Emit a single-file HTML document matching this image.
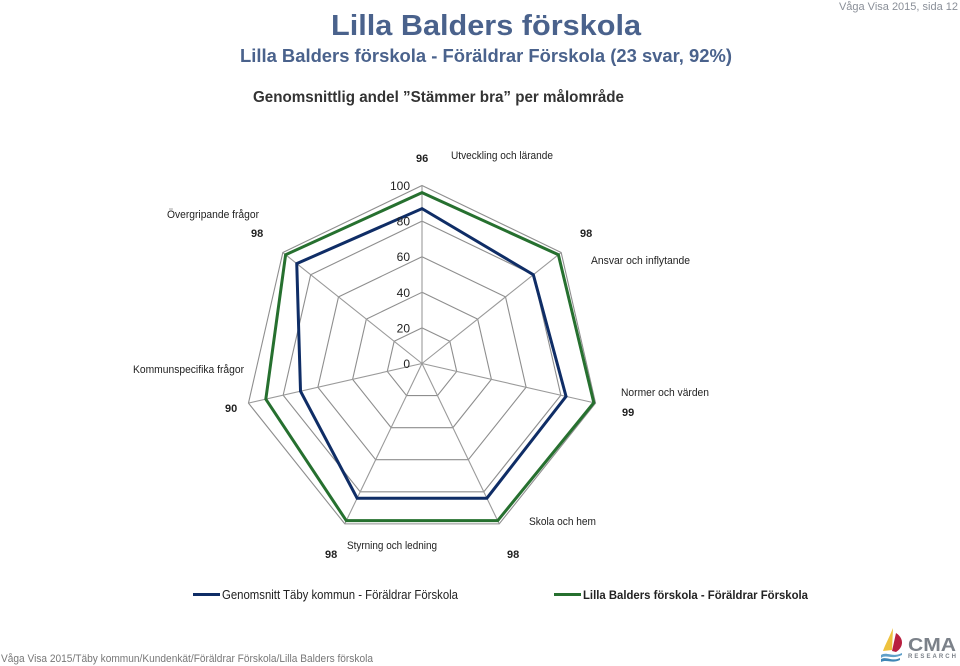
<!DOCTYPE html>
<html lang="sv">
<head>
<meta charset="utf-8">
<title>Lilla Balders förskola</title>
<style>
html,body{margin:0;padding:0;background:#fff;}
body{width:960px;height:666px;overflow:hidden;}
svg{display:block;}
text{font-family:"Liberation Sans",sans-serif;}
</style>
</head>
<body>
<svg id="chart" xmlns="http://www.w3.org/2000/svg" width="960" height="666" viewBox="0 0 960 666">
  <text x="486" y="35" text-anchor="middle" font-size="29" font-weight="bold" fill="#4a628c" textLength="310" lengthAdjust="spacingAndGlyphs">Lilla Balders förskola</text>
  <text x="486" y="62" text-anchor="middle" font-size="18" font-weight="bold" fill="#4a628c" textLength="492" lengthAdjust="spacingAndGlyphs">Lilla Balders förskola - Föräldrar Förskola (23 svar, 92%)</text>
  <text x="958" y="10" text-anchor="end" font-size="11" fill="#8a8f98">Våga Visa 2015, sida 12</text>
  <text x="253" y="102" font-size="16" font-weight="bold" fill="#333333" textLength="371" lengthAdjust="spacingAndGlyphs">Genomsnittlig andel ”Stämmer bra” per målområde</text>
  <g id="grid"></g>
  <g id="series"></g>
  <g id="ticks"></g>
  <g id="labels"></g>
  <g id="legend"></g>
  <text x="1" y="662" font-size="11" fill="#777777" textLength="372" lengthAdjust="spacingAndGlyphs">Våga Visa 2015/Täby kommun/Kundenkät/Föräldrar Förskola/Lilla Balders förskola</text>
  <g>
    <path d="M893 628 C889 638 885 645 883 651 L892 650 Z" fill="#eec23e"/>
    <path d="M896 633 C904 638 904 647 896 652 L892 651 Z" fill="#b81f3f"/>
    <path d="M881 655 C887 651 892 658 902 653 L902 655 C892 660 886 654 881 658 Z" fill="#5f9fc8"/>
    <path d="M881 659 C887 656 892 662 900 658 L900 660 C892 664 887 659 881 662 Z" fill="#3f86b5"/>
    <text x="908" y="651" font-size="18" font-weight="bold" fill="#7b8189" textLength="48" lengthAdjust="spacingAndGlyphs">CMA</text>
    <text x="908" y="658" font-size="6" font-weight="bold" fill="#7b8189" textLength="48" lengthAdjust="spacing">RESEARCH</text>
  </g>
</svg>
<script>
const categories = ["Utveckling och lärande", "Ansvar och inflytande", "Normer och värden", "Skola och hem", "Styrning och ledning", "Kommunspecifika frågor", "Övergripande frågor"];
const seriesNames = ["Genomsnitt Täby kommun - Föräldrar Förskola", "Lilla Balders förskola - Föräldrar Förskola"];
const kommunValues = [87, 80, 83, 84, 84, 70, 90];
const skolaValues = [96, 98, 99, 98, 98, 90, 98];
const tickValues = [0, 20, 40, 60, 80, 100];

const NS = "http://www.w3.org/2000/svg";
const CX = 422, CY = 363.5, R = 178, AXIS_MAX = 100;
const n = categories.length;

function angle(i) { return -Math.PI / 2 + i * 2 * Math.PI / n; }
function rScale(v) { return v / AXIS_MAX * R; }
function px(i, v) { return CX + rScale(v) * Math.cos(angle(i)); }
function py(i, v) { return CY + rScale(v) * Math.sin(angle(i)); }
function ringPoints(vals) {
  return vals.map(function (v, i) { return px(i, v).toFixed(2) + "," + py(i, v).toFixed(2); }).join(" ");
}
function make(tag, attrs, parent, txt) {
  const el = document.createElementNS(NS, tag);
  for (const k in attrs) el.setAttribute(k, attrs[k]);
  if (txt !== undefined) el.textContent = txt;
  parent.appendChild(el);
  return el;
}

const gridG = document.getElementById("grid");
tickValues.slice(1).forEach(function (t) {
  const ring = make("polygon", { points: ringPoints(categories.map(function () { return t; })), fill: "none", stroke: "#8e8e8e", "stroke-width": 1.1 }, gridG);
  
  
});
categories.forEach(function (c, i) {
  const spoke = make("line", { x1: CX, y1: CY, x2: px(i, AXIS_MAX), y2: py(i, AXIS_MAX), stroke: "#9a9a9a", "stroke-width": 1.1 }, gridG);
  
  
});

const seriesG = document.getElementById("series");
const blueLine = make("polygon", { points: ringPoints(kommunValues), fill: "none", stroke: "#0f2d66", "stroke-width": 3, "stroke-linejoin": "miter" }, seriesG);


const greenLine = make("polygon", { points: ringPoints(skolaValues), fill: "none", stroke: "#26702f", "stroke-width": 3, "stroke-linejoin": "miter" }, seriesG);



const ticksG = document.getElementById("ticks");
tickValues.forEach(function (t) {
  const tick = make("text", { x: 410, y: CY - rScale(t) + 4.5, "text-anchor": "end", "font-size": 12, fill: "#222" }, ticksG, String(t));
  
  
});

/* placement of each axis caption and printed value, one per category */
const namePlacement = [[451, 159, 102], [591, 264, 99], [621, 396, 88], [529, 525, 67], [347, 549, 90], [133, 373, 111], [167, 218, 92]];
const valuePlacement = [[416, 162], [580, 237], [622, 416], [507, 558], [325, 558], [225, 412], [251, 237]];
const labelsG = document.getElementById("labels");
categories.forEach(function (c, i) {
  const name = make("text", { x: namePlacement[i][0], y: namePlacement[i][1], "font-size": 11, fill: "#222", textLength: namePlacement[i][2], lengthAdjust: "spacingAndGlyphs" }, labelsG, c);
  
  
  const val = make("text", { x: valuePlacement[i][0], y: valuePlacement[i][1], "font-size": 11, "font-weight": "bold", fill: "#222" }, labelsG, String(skolaValues[i]));
  
  
});

const legendG = document.getElementById("legend");
const lineBlue = make("line", { x1: 193, y1: 594.5, x2: 220, y2: 594.5, stroke: "#0f2d66", "stroke-width": 3 }, legendG);


const textBlue = make("text", { x: 222, y: 599, "font-size": 12.5, fill: "#222", textLength: 236, lengthAdjust: "spacingAndGlyphs" }, legendG, seriesNames[0]);


const lineGreen = make("line", { x1: 554, y1: 594.5, x2: 581, y2: 594.5, stroke: "#26702f", "stroke-width": 3 }, legendG);


const textGreen = make("text", { x: 583, y: 599, "font-size": 12, "font-weight": "bold", fill: "#222", textLength: 225, lengthAdjust: "spacingAndGlyphs" }, legendG, seriesNames[1]);


</script>
</body>
</html>
